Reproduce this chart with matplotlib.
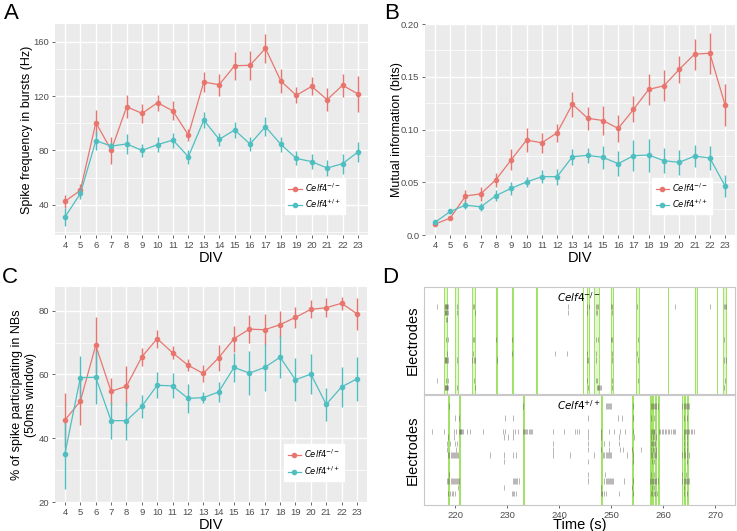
import numpy as np
import matplotlib.pyplot as plt
from matplotlib.lines import Line2D

# ---------------- data ----------------
div = list(range(4, 24))

# A: spike frequency in bursts (Hz)
a_ko = [42.5, 50.6, 100.4, 80.2, 112.1, 107.2, 115.1, 109.0, 91.3, 130.3,
        128.3, 142.3, 142.6, 155.1, 131.0, 120.5, 127.1, 117.3, 127.9, 121.5]
a_ko_err = [5, 5, 9.5, 10, 8.6, 7.2, 6, 7, 4.3, 7.6,
            8, 10.4, 10.8, 10.7, 9, 6, 6.7, 8.3, 8.5, 13]
a_wt = [31.0, 48.3, 87.1, 83.2, 84.7, 80.0, 84.2, 87.6, 75.3, 102.3,
        88.1, 95.0, 84.7, 97.4, 84.4, 74.1, 71.7, 67.0, 70.2, 78.8]
a_wt_err = [6.4, 4, 7, 3, 7.6, 5, 5.6, 5.5, 5, 5.8,
            4.7, 6, 5, 7, 5.3, 5.2, 5.6, 5.8, 7.4, 7.1]

# B: mutual information (bits)
b_ko = [0.0104, 0.016, 0.037, 0.039, 0.0525, 0.0714, 0.090, 0.0874, 0.0969, 0.124,
        0.1107, 0.1085, 0.101, 0.119, 0.138, 0.1415, 0.157, 0.1714, 0.1723, 0.1233]
b_ko_err = [0.002, 0.002, 0.006, 0.0066, 0.0066, 0.01, 0.011, 0.0097, 0.0087, 0.012,
            0.011, 0.014, 0.013, 0.0123, 0.015, 0.0146, 0.013, 0.0146, 0.0195, 0.02]
b_wt = [0.012, 0.0223, 0.0283, 0.0267, 0.0374, 0.0443, 0.0503, 0.0553, 0.0553, 0.0742,
        0.0755, 0.0736, 0.0676, 0.0752, 0.0758, 0.0704, 0.0689, 0.0748, 0.073, 0.0465]
b_wt_err = [0.002, 0.0025, 0.004, 0.004, 0.005, 0.006, 0.005, 0.006, 0.0075, 0.0074,
            0.0074, 0.0107, 0.012, 0.0145, 0.0156, 0.0118, 0.0118, 0.0108, 0.011, 0.0105]

# C: % of spikes participating in NBs
c_ko = [45.7, 51.6, 69.1, 54.7, 56.3, 65.5, 71.2, 66.8, 62.9, 60.3,
        65.2, 71.2, 74.2, 74.0, 75.6, 77.9, 80.4, 80.9, 82.3, 79.0]
c_ko_err = [8.6, 7.5, 8.8, 4.2, 6.3, 2.8, 2.8, 2, 1.8, 2.7,
            4, 4.1, 4.4, 4.8, 4.2, 3.2, 2.8, 2.9, 2, 5.1]
c_wt = [35.2, 59.0, 59.1, 45.5, 45.5, 50.0, 56.6, 56.4, 52.5, 52.7,
        54.5, 62.2, 60.4, 62.2, 65.4, 58.3, 60.1, 50.6, 56.1, 58.6]
c_wt_err = [11, 6.7, 8.5, 5.9, 6, 3.7, 4.1, 3.9, 4.5, 1.7,
            3.2, 4.6, 6.8, 7.3, 6.6, 6.7, 6.3, 5.1, 6.2, 7]

# D: raster, network bursts (start, end) in s
top_bursts = [(217.9, 218.5), (219.9, 220.6), (223.3, 223.8), (227.9, 228.0), (231.0, 231.1),
              (235.5, 235.7), (244.5, 244.6), (245.4, 245.7), (246.7, 247.6), (249.9, 250.4),
              (254.8, 255.3), (260.9, 261.0), (266.2, 266.4), (270.3, 270.4), (271.5, 272.1)]
bot_bursts = [(218.7, 218.9), (220.7, 220.9), (233.0, 233.2), (248.0, 248.2), (254.0, 254.2),
              (257.4, 257.6), (257.9, 258.1), (258.4, 258.6), (258.9, 259.1),
              (263.7, 263.9), (264.0, 264.2), (264.6, 264.8)]

top_rows = [3.3, 4.3, 5.6, 9.0, 11.4, 12.5, 16.0, 17.2]
top_spikes = [
    [216.5, 218.0, 218.1, 218.2, 218.3, 218.4, 218.5, 218.6, 220.3, 223.4, 223.7, 241.6,
     245.3, 245.8, 247.0, 247.2, 247.5, 250.0, 250.2, 254.9, 262.3, 268.9, 271.6, 271.8, 272.0],
    [218.0, 218.1, 218.2, 218.3, 218.4, 218.6, 220.3, 223.8, 241.6, 245.3, 247.1, 247.3, 250.1],
    [218.2, 218.5],
    [218.2, 218.6, 223.4, 223.7, 227.9, 231.0, 247.1, 247.4, 250.0, 250.2, 255.2, 271.7],
    [218.5, 223.5, 231.0, 239.2, 241.5, 245.4, 247.0, 250.1, 254.9],
    [218.0, 218.1, 218.2, 218.3, 218.4, 218.6, 220.4, 223.3, 223.6, 223.9, 228.0,
     245.3, 245.6, 247.1, 250.1, 255.2, 271.7, 272.0],
    [216.5, 218.3, 218.6, 223.6, 245.3, 247.1, 247.3, 250.1, 255.2, 271.9],
    [218.0, 218.1, 218.2, 218.3, 218.4, 218.5, 218.7, 220.3, 223.8, 245.6,
     247.2, 247.4, 247.5, 247.7, 247.8, 248.0, 250.1, 271.6],
]

bot_rows = [1.8, 3.8, 6.1, 7.0, 8.1, 9.1, 10.0, 11.1, 13.2, 14.3, 15.4, 16.4]
bot_spikes = [
    [218.8, 233.1, 249.0, 249.2, 249.4, 249.6, 249.8, 250.0, 254.1, 257.6, 257.9, 258.1,
     258.3, 258.5, 258.7, 258.9, 263.7, 263.9, 264.1, 264.3, 264.5, 264.7, 264.9],
    [220.0, 220.8, 229.5, 231.1, 245.5, 251.3, 252.0, 254.1, 257.6, 258.3, 263.9, 264.5],
    [215.5, 217.8, 219.7, 220.1, 220.8, 220.9, 221.0, 221.1, 221.2, 221.3, 221.5, 222.2,
     222.9, 225.3, 229.2, 229.6, 231.1, 231.5, 232.0, 233.1, 233.3, 233.5, 233.7, 233.9,
     234.1, 234.3, 234.5, 234.7, 238.8, 241.0, 243.1, 243.4, 243.8, 245.6, 248.1, 249.5,
     250.6, 251.7, 252.7, 254.1, 257.6, 257.8, 258.0, 258.2, 258.3, 259.1, 259.4, 259.7,
     260.0, 260.3, 260.6, 260.9, 261.2, 261.5, 261.8, 262.0, 262.3, 263.9, 264.1, 264.3,
     264.5, 264.7, 264.9, 265.3, 265.6, 266.0],
    [218.7, 219.7, 229.3, 230.1, 231.1, 245.5, 248.1, 251.4, 254.3, 257.6, 258.0, 258.3,
     258.7, 263.9, 264.5],
    [218.5, 219.0, 220.0, 220.4, 238.9, 245.5, 248.7, 249.5, 251.5, 257.6, 257.8, 258.0,
     258.2, 258.4, 263.9, 264.5],
    [218.5, 220.2, 238.9, 245.5, 248.1, 249.6, 251.7, 252.3, 254.0, 255.8, 257.6, 258.0,
     258.3, 258.7, 263.9, 264.5],
    [218.7, 218.9, 219.1, 219.3, 219.5, 219.7, 219.9, 220.1, 220.3, 220.6, 226.7, 229.3,
     231.1, 231.7, 238.8, 242.1, 246.6, 248.5, 248.7, 248.9, 249.1, 249.3, 249.5, 249.7,
     250.0, 253.0, 254.1, 257.6, 257.9, 258.2, 258.5, 258.7, 263.7, 263.9, 264.2, 264.5,
     264.9],
    [229.4, 245.5, 254.1, 257.8, 258.3, 264.5],
    [218.9, 245.5, 248.8, 257.6, 258.2, 263.7, 264.3],
    [218.5, 218.7, 218.9, 219.1, 219.3, 219.5, 219.7, 219.9, 220.1, 220.3, 220.5, 220.8,
     231.1, 231.3, 231.5, 231.7, 231.9, 232.2, 245.5, 248.7, 248.9, 249.1, 249.3, 249.5,
     249.7, 249.9, 250.1, 250.4, 252.5, 254.1, 257.4, 257.6, 257.8, 258.0, 258.2, 258.4,
     258.6, 258.9, 263.7, 263.9, 264.1, 264.3, 264.5, 264.7, 264.9],
    [220.6, 229.4, 248.0, 254.0, 257.8, 258.3, 263.9],
    [218.7, 219.0, 219.3, 219.6, 220.0, 231.0, 231.2, 231.4, 231.7, 248.0, 248.3, 248.6,
     248.9, 251.5, 254.1, 257.6, 257.9, 258.2, 258.5, 258.8, 263.9, 264.5],
]

RED = '#E8766F'
CYAN = '#4FBFC2'
GREY_BG = '#EBEBEB'
ko_label = r'$\mathit{Celf4}^{-/-}$'
wt_label = r'$\mathit{Celf4}^{+/+}$'

plt.rcParams['font.family'] = ['Liberation Sans', 'DejaVu Sans']
plt.rcParams['mathtext.fontset'] = 'custom'
plt.rcParams['mathtext.it'] = 'DejaVu Sans:italic'
plt.rcParams['mathtext.rm'] = 'DejaVu Sans'

fig = plt.figure(figsize=(7.37, 5.31), dpi=100)


def gg_panel(ax, y_ko, e_ko, y_wt, e_wt, ylim, yticks, yticklabels, ylabel, minor, lab_x):
    ax.set_facecolor(GREY_BG)
    for s in ax.spines.values():
        s.set_visible(False)
    for m in minor:
        ax.axhline(m, color='white', lw=0.5, zorder=0)
    for t in yticks:
        ax.axhline(t, color='white', lw=1.0, zorder=0)
    for d in div:
        ax.axvline(d, color='white', lw=1.0, zorder=0)
    ax.errorbar(div, y_ko, yerr=e_ko, color=RED, lw=0.9, elinewidth=1.0,
                marker='o', ms=3, zorder=3)
    ax.errorbar(div, y_wt, yerr=e_wt, color=CYAN, lw=0.9, elinewidth=1.0,
                marker='o', ms=3, zorder=3)
    ax.set_xlim(3.35, 23.65)
    ax.set_ylim(*ylim)
    ax.set_xticks(div)
    ax.set_xticklabels([str(d) for d in div])
    ax.set_yticks(yticks)
    ax.set_yticklabels(yticklabels)
    ax.tick_params(axis='both', labelsize=6.8, colors='#4D4D4D', length=2,
                   width=0.6, pad=2)
    ax.set_xlabel('DIV', fontsize=10.5, labelpad=1)
    ax.set_ylabel(ylabel, fontsize=9)
    ax.yaxis.set_label_coords(lab_x, 0.5)
    handles = [Line2D([], [], color=RED, marker='o', ms=3, lw=0.9),
               Line2D([], [], color=CYAN, marker='o', ms=3, lw=0.9)]
    ax.legend(handles, [ko_label, wt_label], loc='lower right',
              bbox_to_anchor=(0.94, 0.08), fontsize=6, frameon=True,
              fancybox=False, framealpha=1, edgecolor='white',
              handlelength=1.6, handletextpad=0.4, borderpad=0.45, labelspacing=0.5)
    return ax


axA = fig.add_axes([0.0746, 0.5574, 0.4247, 0.3974])
gg_panel(axA, a_ko, a_ko_err, a_wt, a_wt_err, (17.7, 173), [40, 80, 120, 160],
         ['40', '80', '120', '160'], 'Spike frequency in bursts (Hz)', [20, 60, 100, 140],
         -0.07)

axB = fig.add_axes([0.5767, 0.5574, 0.4206, 0.3974])
gg_panel(axB, b_ko, b_ko_err, b_wt, b_wt_err, (0, 0.2), [0, 0.05, 0.1, 0.15, 0.2],
         ['0.0', '0.05', '0.10', '0.15', '0.20'], 'Mutual information (bits)',
         [0.025, 0.075, 0.125, 0.175], -0.072)

axC = fig.add_axes([0.0746, 0.0546, 0.4233, 0.4049])
gg_panel(axC, c_ko, c_ko_err, c_wt, c_wt_err, (20, 87.4), [20, 40, 60, 80],
         ['20', '40', '60', '80'], '% of spike participating in NBs\n(50ms window)',
         [30, 50, 70], -0.058)


def raster(ax, bursts, rows, spikes, title):
    for s in ax.spines.values():
        s.set_color('#C8C8C8')
        s.set_linewidth(0.8)
    for b0, b1 in bursts:
        ax.axvspan(b0, b1, color='#DDF6C4', alpha=0.8, lw=0, zorder=1)
        ax.axvline(b0, color='#9EE264', lw=0.7, zorder=2)
        ax.axvline(b1, color='#9EE264', lw=0.7, zorder=2)
    ax.eventplot(spikes, lineoffsets=rows, linelengths=0.9, linewidths=0.5,
                 colors='#5E5454', alpha=0.6, zorder=3)
    ax.set_xlim(214.0, 273.8)
    ax.set_ylim(18.3, 0)
    ax.set_yticks([])
    ax.set_ylabel('Electrodes', fontsize=10.5)
    ax.yaxis.set_label_coords(-0.013, 0.5)
    ax.text(0.5, 0.97, title, transform=ax.transAxes, ha='center', va='top',
            fontsize=7.5)


axD1 = fig.add_axes([0.5753, 0.258, 0.422, 0.2015])
raster(axD1, top_bursts, top_rows, top_spikes, ko_label)
axD1.set_xticks([])

axD2 = fig.add_axes([0.5753, 0.049, 0.422, 0.207])
raster(axD2, bot_bursts, bot_rows, bot_spikes, wt_label)
axD2.set_xticks([220, 230, 240, 250, 260, 270])
axD2.tick_params(axis='x', labelsize=6.8, colors='#4D4D4D', length=2, width=0.6, pad=2)
axD2.set_xlabel('Time (s)', fontsize=10.5, labelpad=-1)

# panel letters
fig.text(0.005, 0.995, 'A', fontsize=16, va='top', ha='left')
fig.text(0.521, 0.995, 'B', fontsize=16, va='top', ha='left')
fig.text(0.003, 0.497, 'C', fontsize=16, va='top', ha='left')
fig.text(0.519, 0.497, 'D', fontsize=16, va='top', ha='left')

fig.savefig('out.png', dpi=100)
